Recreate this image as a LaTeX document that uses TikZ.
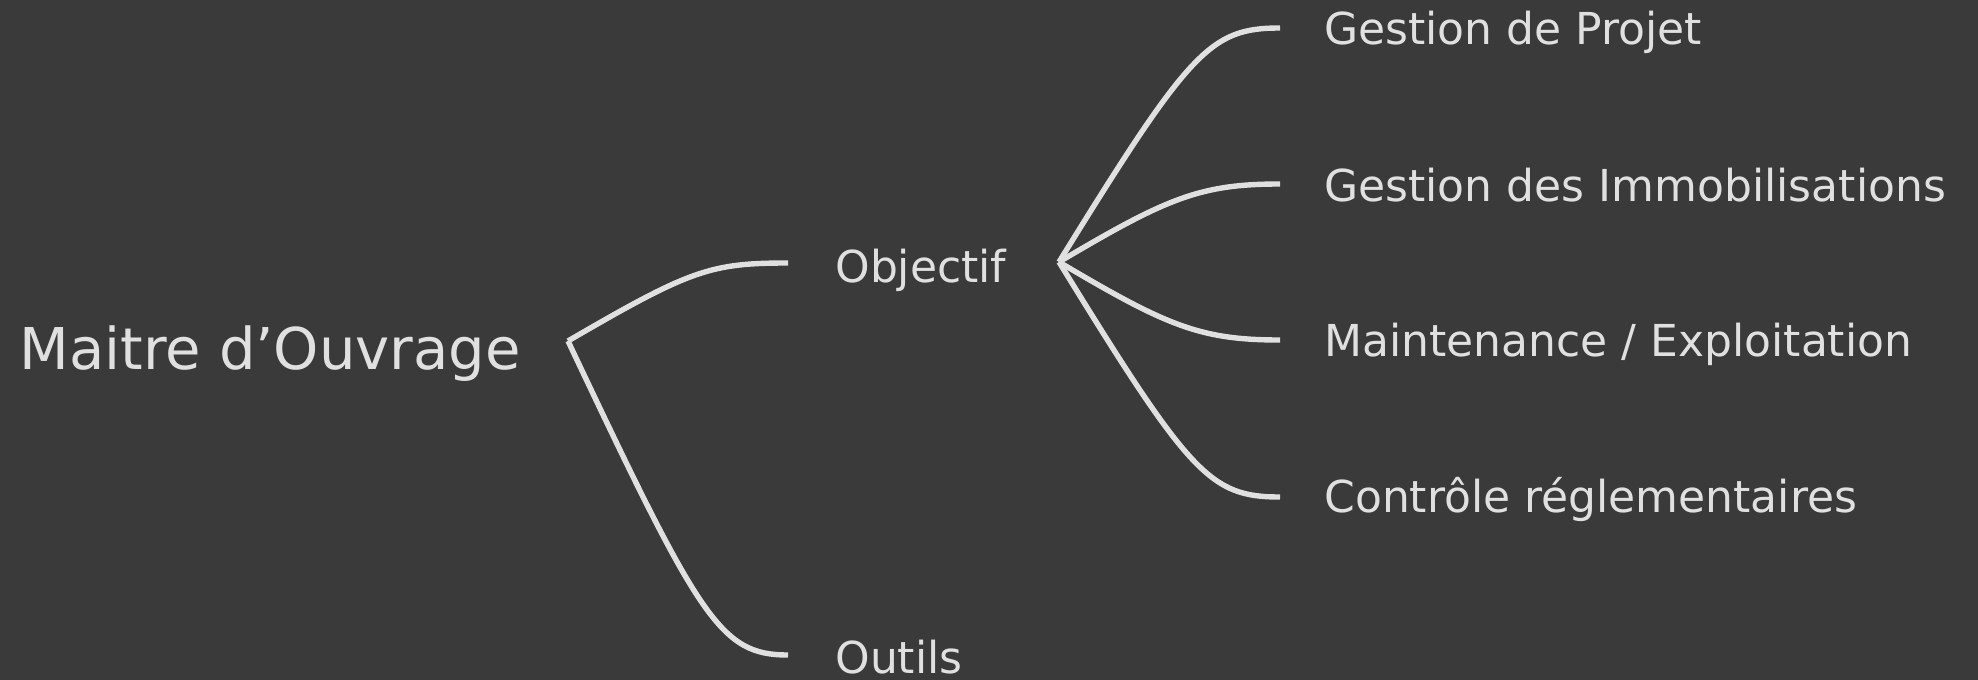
\documentclass[tikz,border=0pt]{standalone}
\usepackage{fontspec}
\setmainfont{DejaVu Sans}
\definecolor{bg}{HTML}{3A3A3A}
\definecolor{chalk}{HTML}{E0E0E0}
\begin{document}
\begin{tikzpicture}[x=0.5pt,y=-0.5pt,
  lbl/.style={text=chalk, inner sep=0pt, anchor=base west},
  big/.style={font=\fontsize{28.8}{34}\selectfont},
  mid/.style={font=\fontsize{22}{26}\selectfont},
  small/.style={font=\fontsize{22}{26}\selectfont},
  link/.style={draw=chalk, line width=2.7pt, line cap=butt}]
\fill[bg] (0,0) rectangle (1978,680);
\useasboundingbox (0,0) rectangle (1978,680);
% texts
\node[lbl, big] (root) at (19,369) {Maitre d’Ouvrage};
\node[lbl, mid] (obj) at (835,282) {Objectif};
\node[lbl, mid] (out) at (835,673) {Outils};
\node[lbl, small] (gp) at (1324,45) {Gestion de Projet};
\node[lbl, small] (gi) at (1324,201) {Gestion des Immobilisations};
\node[lbl, small] (me) at (1324,356) {Maintenance / Exploitation};
\node[lbl, small] (cr) at (1324,512) {Contrôle réglementaires};
% junctions and line ends
\coordinate (jr) at (568,341);
\coordinate (eobj) at (788,263);
\coordinate (eout) at (788,655);
\coordinate (jo) at (1059,262);
\coordinate (egp) at (1280,28);
\coordinate (egi) at (1280,184);
\coordinate (eme) at (1280,340);
\coordinate (ecr) at (1280,497);
% connectors
\draw[link] (jr) .. controls +(122,-71) and +(-78,0) .. (eobj);
\draw[link] (jr) .. controls +(132,279) and +(-68,0) .. (eout);
\draw[link] (jo) .. controls +(131,-212) and +(-70,0) .. (egp);
\draw[link] (jo) .. controls +(108,-64) and +(-80,0) .. (egi);
\draw[link] (jo) .. controls +(108,64) and +(-80,0) .. (eme);
\draw[link] (jo) .. controls +(131,213) and +(-70,0) .. (ecr);
\end{tikzpicture}
\end{document}
